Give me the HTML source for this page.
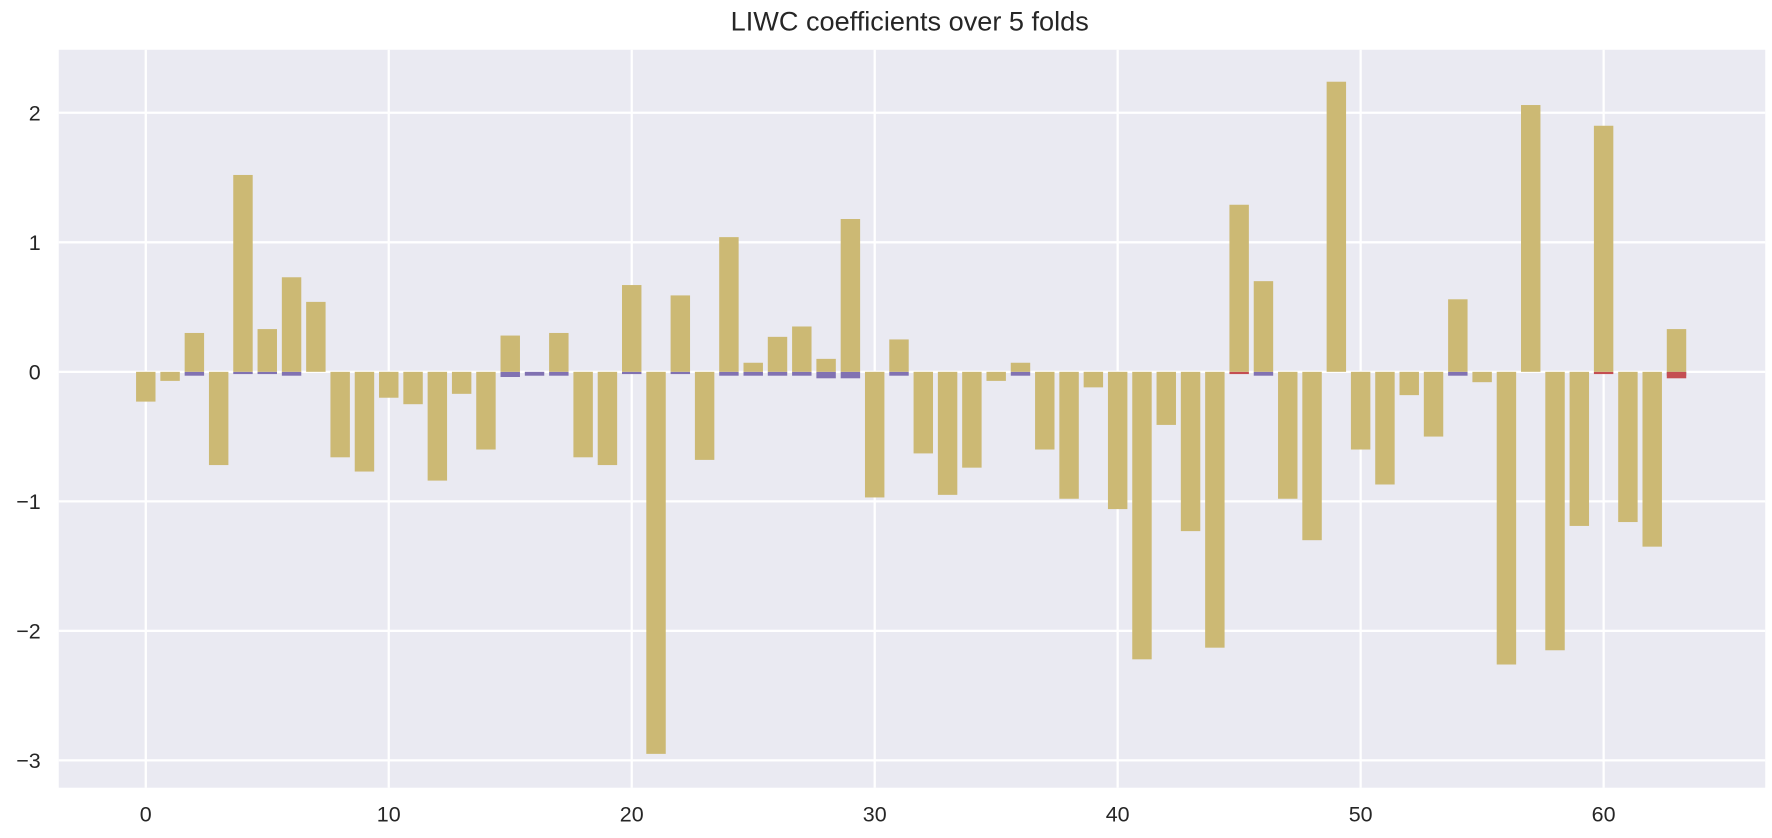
<!DOCTYPE html>
<html><head><meta charset="utf-8"><style>
body{margin:0;background:#fff;}
svg{display:block;}
svg text{font-family:"Liberation Sans",sans-serif;fill:#262626;}
</style></head><body>
<svg width="1772" height="838" viewBox="0 0 1568 741.5" xmlns="http://www.w3.org/2000/svg">
<text x="805" y="27" font-size="24" text-anchor="middle">LIWC coefficients over 5 folds</text>
<rect x="52" y="44" width="1510" height="653" fill="#eaeaf2"/>
<g id="grid"></g><g id="bars"></g><g id="ticks"></g>
</svg>
<script>
const categories = Array.from({length:64},(_, i)=>i);
const foldMain = [-0.23,-0.07,0.30,-0.72,1.52,0.33,0.73,0.54,-0.66,-0.77,-0.20,-0.25,-0.84,-0.17,-0.60,0.28,0,0.30,-0.66,-0.72,0.67,-2.95,0.59,-0.68,1.04,0.07,0.27,0.35,0.10,1.18,-0.97,0.25,-0.63,-0.95,-0.74,-0.07,0.07,-0.60,-0.98,-0.12,-1.06,-2.22,-0.41,-1.23,-2.13,1.29,0.70,-0.98,-1.30,2.24,-0.60,-0.87,-0.18,-0.50,0.56,-0.08,-2.26,2.06,-2.15,-1.19,1.90,-1.16,-1.35,0.33];
const foldPurple = {2:-0.03,4:-0.01,5:-0.01,6:-0.03,15:-0.04,16:-0.03,17:-0.03,20:-0.01,22:-0.01,24:-0.03,25:-0.03,26:-0.03,27:-0.03,28:-0.05,29:-0.05,31:-0.03,36:-0.03,46:-0.03,54:-0.03,63:-0.03};
const foldRed = {45:-0.01,60:-0.01,63:-0.05};
const xTicks = [0,10,20,30,40,50,60];
const yTicks = [-3,-2,-1,0,1,2];
const X = v => 129 + v*21.5;
const Y = v => 329 - v*114.6;
const NS="http://www.w3.org/2000/svg";
function mk(tag,attrs,parent){const e=document.createElementNS(NS,tag);for(const k in attrs)e.setAttribute(k,attrs[k]);parent.appendChild(e);return e;}
const grid=document.getElementById('grid'),bars=document.getElementById('bars'),ticks=document.getElementById('ticks');
xTicks.forEach(t=>{
  const l=mk('line',{x1:X(t),x2:X(t),y1:44,y2:697,stroke:'#fff','stroke-width':2},grid);
  
  
  const tx=mk('text',{x:X(t),y:727,'font-size':19,'text-anchor':'middle'},ticks);
  tx.textContent=t;
  
  
});
yTicks.forEach(t=>{
  const l=mk('line',{x1:52,x2:1562,y1:Y(t),y2:Y(t),stroke:'#fff','stroke-width':2},grid);
  
  
  const tx=mk('text',{x:36,y:Y(t)+7,'font-size':19,'text-anchor':'end'},ticks);
  tx.textContent=(t<0?'\u2212'+(-t):t);
  
  
});
const bw=0.8*21.5;
function bar(i,v,color,name){
  const y0=Math.min(Y(0),Y(v)),h=Math.max(Math.abs(Y(v)-Y(0)),2);
  const r=mk('rect',{x:X(i)-bw/2,y:y0,width:bw,height:h,fill:color},bars);
  
  
}
for(const k in foldPurple) bar(+k,foldPurple[k],'#8172b2','bar-fold-purple');
for(const k in foldRed) bar(+k,foldRed[k],'#c44e52','bar-fold-red');
categories.forEach((c,i)=>{ if(foldMain[i]!==0) bar(c,foldMain[i],'#ccb974','bar-coefficient'); });
</script>
</body></html>
